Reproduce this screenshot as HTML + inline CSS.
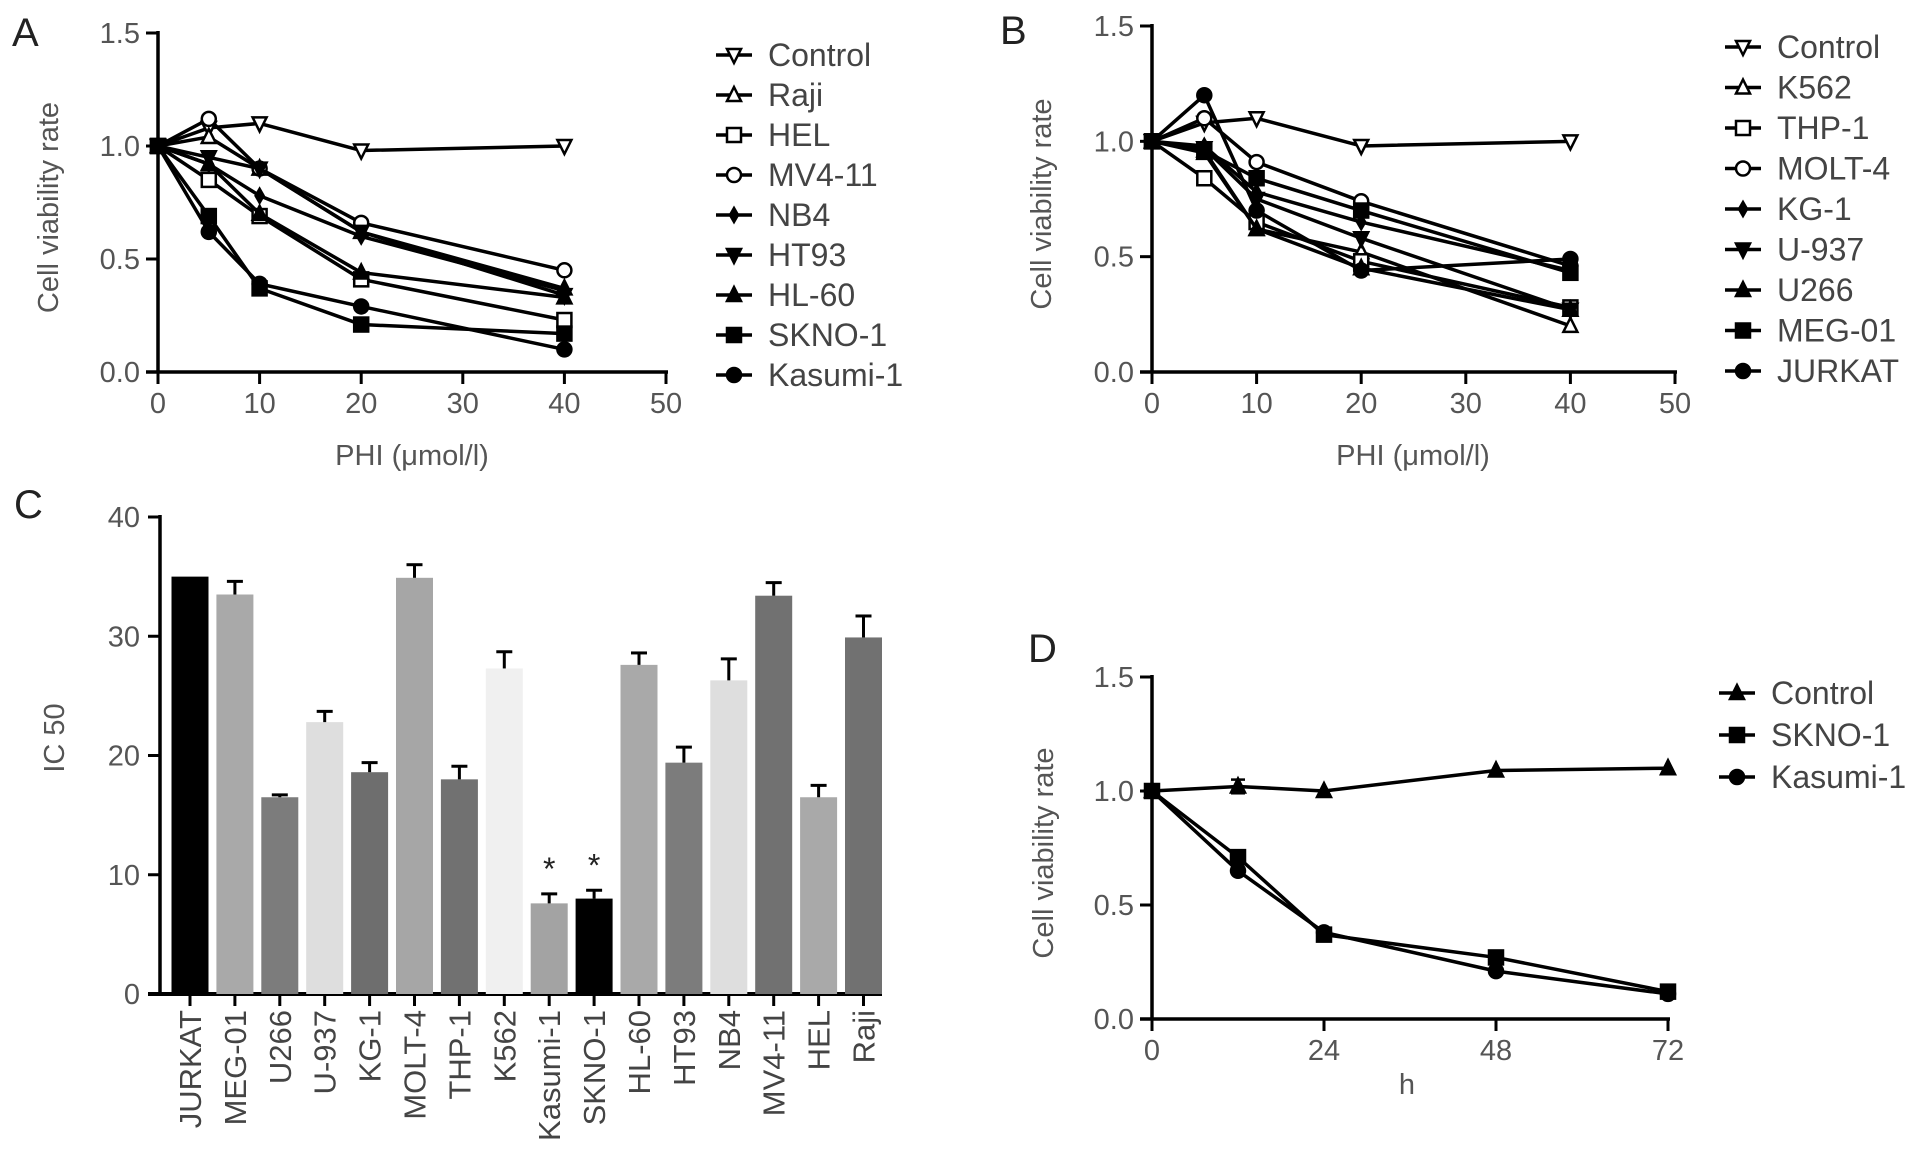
<!DOCTYPE html>
<html><head><meta charset="utf-8"><style>
html,body{margin:0;padding:0;background:#fff;}
svg{display:block;font-family:"Liberation Sans",sans-serif;}
</style></head><body>
<svg id="fig" width="1913" height="1174" viewBox="0 0 1913 1174"></svg>
<script>
// ---------- Panel A data ----------
const doseA = [0, 5, 10, 20, 40];
const namesA = ["Control","Raji","HEL","MV4-11","NB4","HT93","HL-60","SKNO-1","Kasumi-1"];
const markersA = ["tridown-open","triup-open","square-open","circle-open","diamond","tridown","triup","square","circle"];
const controlA = [1.0, 1.08, 1.10, 0.98, 1.00];
const rajiA = [1.0, 1.04, 0.90, 0.62, 0.37];
const helA = [1.0, 0.85, 0.69, 0.41, 0.23];
const mv411A = [1.0, 1.12, 0.90, 0.66, 0.45];
const nb4A = [1.0, 0.92, 0.78, 0.60, 0.36];
const ht93A = [1.0, 0.95, 0.90, 0.62, 0.34];
const hl60A = [1.0, 0.92, 0.70, 0.44, 0.33];
const skno1A = [1.0, 0.69, 0.37, 0.21, 0.17];
const kasumiA = [1.0, 0.62, 0.39, 0.29, 0.10];
// ---------- Panel B data ----------
const doseB = [0, 5, 10, 20, 40];
const namesB = ["Control","K562","THP-1","MOLT-4","KG-1","U-937","U266","MEG-01","JURKAT"];
const controlB = [1.0, 1.08, 1.10, 0.98, 1.00];
const k562B = [1.0, 0.95, 0.62, 0.52, 0.20];
const thp1B = [1.0, 0.84, 0.65, 0.48, 0.28];
const molt4B = [1.0, 1.10, 0.91, 0.74, 0.46];
const kg1B = [1.0, 0.98, 0.78, 0.65, 0.44];
const u937B = [1.0, 0.97, 0.75, 0.58, 0.27];
const u266B = [1.0, 0.96, 0.62, 0.45, 0.27];
const meg01B = [1.0, 0.96, 0.84, 0.70, 0.43];
const jurkatB = [1.0, 1.20, 0.70, 0.44, 0.49];
// ---------- Panel C data ----------
const cellsC = ["JURKAT","MEG-01","U266","U-937","KG-1","MOLT-4","THP-1","K562","Kasumi-1","SKNO-1","HL-60","HT93","NB4","MV4-11","HEL","Raji"];
const ic50C = [35.0, 33.5, 16.5, 22.8, 18.6, 34.9, 18.0, 27.3, 7.6, 8.0, 27.6, 19.4, 26.3, 33.4, 16.5, 29.9];
const errC = [0, 1.1, 0.2, 0.9, 0.8, 1.1, 1.1, 1.4, 0.8, 0.7, 1.0, 1.3, 1.8, 1.1, 1.0, 1.8];
const colorsC = ["#000","#a9a9a9","#7c7c7c","#dedede","#6e6e6e","#a6a6a6","#717171","#f0f0f0","#a3a3a3","#000","#a9a9a9","#7c7c7c","#dedede","#717171","#a9a9a9","#717171"];
const starC = [8, 9];
const yTicksC = [0, 10, 20, 30, 40];
// ---------- Panel D data ----------
const hoursD = [0, 12, 24, 48, 72];
const namesD = ["Control","SKNO-1","Kasumi-1"];
const controlD = [1.0, 1.02, 1.00, 1.09, 1.10];
const controlErrD = [0, 0.03, 0, 0, 0];
const skno1D = [1.0, 0.71, 0.37, 0.27, 0.12];
const kasumiD = [1.0, 0.65, 0.38, 0.21, 0.11];
const yTicksV = [0.0, 0.5, 1.0, 1.5];
const xTicksAB = [0, 10, 20, 30, 40, 50];
const xTicksD = [0, 24, 48, 72];

const NS = "http://www.w3.org/2000/svg";
const svg = document.getElementById("fig");
function el(tag, attrs, parent) {
  const e = document.createElementNS(NS, tag);
  for (const k in attrs) e.setAttribute(k, attrs[k]);
  (parent || svg).appendChild(e);
  return e;
}
function txt(s, x, y, size, anchor, parent, extra) {
  const t = el("text", Object.assign({x:x, y:y, "font-size":size, "text-anchor":anchor, fill:"#555"}, extra || {}), parent);
  t.textContent = s;
  return t;
}
function marker(type, cx, cy, parent) {
  const r = 7;
  const open = type.endsWith("-open");
  const fill = open ? "#fff" : "#000";
  const base = type.replace("-open", "");
  const st = {fill: fill, stroke: "#000", "stroke-width": 2.5};
  let m;
  if (base === "circle") m = el("circle", Object.assign({cx:cx, cy:cy, r:r}, st), parent);
  else if (base === "square") m = el("rect", Object.assign({x:cx-r, y:cy-r, width:2*r, height:2*r}, st), parent);
  else if (base === "triup") m = el("polygon", Object.assign({points:`${cx},${cy-r-1} ${cx+r},${cy+r-1} ${cx-r},${cy+r-1}`}, st), parent);
  else if (base === "tridown") m = el("polygon", Object.assign({points:`${cx-r},${cy-r+1} ${cx+r},${cy-r+1} ${cx},${cy+r+1}`}, st), parent);
  else m = el("polygon", Object.assign({points:`${cx},${cy-r} ${cx+4},${cy} ${cx},${cy+r} ${cx-4},${cy}`}, st), parent);
  return m;
}

function linePanel(cfg) {
  const g = el("g", {});
  
  
  const xs = v => cfg.x0 + (v - cfg.xmin) / (cfg.xmax - cfg.xmin) * (cfg.x1 - cfg.x0);
  const ys = v => cfg.y0 - v / 1.5 * (cfg.y0 - cfg.y1);
  const ax = el("g", {}, g);
  
  
  el("line", {x1:cfg.x0, y1:cfg.y1-2, x2:cfg.x0, y2:cfg.y0, stroke:"#000", "stroke-width":3.5}, ax);
  el("line", {x1:cfg.x0-12, y1:cfg.y0, x2:cfg.x1+2, y2:cfg.y0, stroke:"#000", "stroke-width":3.5}, ax);
  yTicksV.forEach(v => {
    const y = ys(v);
    el("line", {x1:cfg.x0-12, y1:y, x2:cfg.x0, y2:y, stroke:"#000", "stroke-width":3}, ax);
    const t = txt(v.toFixed(1), cfg.x0-18, y+10, 29, "end", ax);
    
    
  });
  cfg.xticks.forEach(v => {
    const x = xs(v);
    el("line", {x1:x, y1:cfg.y0, x2:x, y2:cfg.y0+12, stroke:"#000", "stroke-width":3}, ax);
    const t = txt(String(v), x, cfg.y0+41, 29, "middle", ax);
    
    
  });
  const yt = txt("Cell viability rate", 0, 0, 29, "middle", g, {transform:`translate(${cfg.ytx},${(cfg.y0+cfg.y1)/2+5}) rotate(-90)`});
  
  
  const xt = txt(cfg.xtitle, cfg.xtx, cfg.xty, 29, "middle", g);
  
  
  const pl = txt(cfg.label, cfg.lx, cfg.ly, 40, "start", g, {fill:"#222"});
  
  
  cfg.series.forEach((s, i) => {
    const sg = el("g", {}, g);
    
    
    const pts = s.values.map((v, j) => xs(cfg.xvals[j]) + "," + ys(v)).join(" ");
    const pline = el("polyline", {points:pts, fill:"none", stroke:"#000", "stroke-width":3.5, "stroke-linejoin":"round"}, sg);
    
    if (s.err) s.err.forEach((e, j) => {
      if (e > 0) {
        const x = xs(cfg.xvals[j]);
        el("line", {x1:x, y1:ys(s.values[j]+e), x2:x, y2:ys(s.values[j]-e), stroke:"#000", "stroke-width":2.5}, sg);
        el("line", {x1:x-7, y1:ys(s.values[j]+e), x2:x+7, y2:ys(s.values[j]+e), stroke:"#000", "stroke-width":2.5}, sg);
        el("line", {x1:x-7, y1:ys(s.values[j]-e), x2:x+7, y2:ys(s.values[j]-e), stroke:"#000", "stroke-width":2.5}, sg);
      }
    });
    s.values.forEach((v, j) => {
      const m = marker(s.marker, xs(cfg.xvals[j]), ys(v), sg);
      
      
    });
    const lg = el("g", {}, g);
    
    
    const ly = cfg.legY0 + i * cfg.legDy;
    el("line", {x1:cfg.legX, y1:ly, x2:cfg.legX+36, y2:ly, stroke:"#000", "stroke-width":3.5}, lg);
    marker(s.marker, cfg.legX+18, ly, lg);
    txt(s.name, cfg.legX+52, ly+11, 32, "start", lg, {fill:"#444"});
  });
}

const mk = (names, vals, marks) => names.map((n, i) => ({name:n, values:vals[i], marker:marks[i]}));

linePanel({name:"panel-a-chart", x0:158, x1:666, xmin:0, xmax:50, y0:372, y1:33, xvals:doseA, xticks:xTicksAB,
  ytx:58, xtitle:"PHI (\u03bcmol/l)", xtx:412, xty:465, label:"A", lx:12, ly:46,
  legX:716, legY0:55, legDy:40,
  series:mk(namesA, [controlA, rajiA, helA, mv411A, nb4A, ht93A, hl60A, skno1A, kasumiA], markersA)});

linePanel({name:"panel-b-chart", x0:1152, x1:1675, xmin:0, xmax:50, y0:372, y1:26, xvals:doseB, xticks:xTicksAB,
  ytx:1051, xtitle:"PHI (\u03bcmol/l)", xtx:1413, xty:465, label:"B", lx:1000, ly:44,
  legX:1725, legY0:47, legDy:40.5,
  series:mk(namesB, [controlB, k562B, thp1B, molt4B, kg1B, u937B, u266B, meg01B, jurkatB], markersA)});

const dSeries = mk(namesD, [controlD, skno1D, kasumiD], ["triup","square","circle"]);
dSeries[0].err = controlErrD;
linePanel({name:"panel-d-chart", x0:1152, x1:1668, xmin:0, xmax:72, y0:1019, y1:677, xvals:hoursD, xticks:xTicksD,
  ytx:1053, xtitle:"h", xtx:1407, xty:1094, label:"D", lx:1028, ly:662,
  legX:1719, legY0:693, legDy:42,
  series:dSeries});

// ---------- Panel C bar chart ----------
(function(){
  const g = el("g", {});
  
  
  const x0 = 160, y0 = 994, yTop = 517, ymax = 40;
  const first = 190, step = 44.9, bw = 37;
  const ys = v => y0 - v / ymax * (y0 - yTop);
  const xs = i => first + i * step;
  const ax = el("g", {}, g);
  
  
  el("line", {x1:x0, y1:yTop-2, x2:x0, y2:y0, stroke:"#000", "stroke-width":3.5}, ax);
  el("line", {x1:x0-12, y1:y0, x2:882, y2:y0, stroke:"#000", "stroke-width":4}, ax);
  yTicksC.forEach(v => {
    const y = ys(v);
    el("line", {x1:x0-12, y1:y, x2:x0, y2:y, stroke:"#000", "stroke-width":3}, ax);
    const t = txt(String(v), x0-20, y+10, 29, "end", ax);
    
    
  });
  const yt = txt("IC 50", 0, 0, 29, "middle", g, {transform:`translate(64,738) rotate(-90)`});
  
  
  const pl = txt("C", 14, 518, 40, "start", g, {fill:"#222"});
  
  
  cellsC.forEach((c, i) => {
    const x = xs(i);
    const b = el("rect", {x:x-bw/2, y:ys(ic50C[i]), width:bw, height:y0-ys(ic50C[i]), fill:colorsC[i]}, g);
    
    
    if (errC[i] > 0) {
      const eg = el("g", {}, g);
      
      
      el("line", {x1:x, y1:ys(ic50C[i]), x2:x, y2:ys(ic50C[i]+errC[i]), stroke:"#000", "stroke-width":3}, eg);
      el("line", {x1:x-8, y1:ys(ic50C[i]+errC[i]), x2:x+8, y2:ys(ic50C[i]+errC[i]), stroke:"#000", "stroke-width":3}, eg);
    }
    el("line", {x1:x, y1:y0, x2:x, y2:y0+12, stroke:"#000", "stroke-width":3}, g);
    const t = txt(c, 0, 0, 31, "end", g, {transform:`translate(${x+11},${y0+16}) rotate(-90)`, fill:"#444"});
    
    
  });
  starC.forEach(i => {
    const s = txt("*", xs(i), ys(ic50C[i] + errC[i]) - 14, 32, "middle", g, {fill:"#222"});
    
    
  });
})();
</script>
</body></html>
